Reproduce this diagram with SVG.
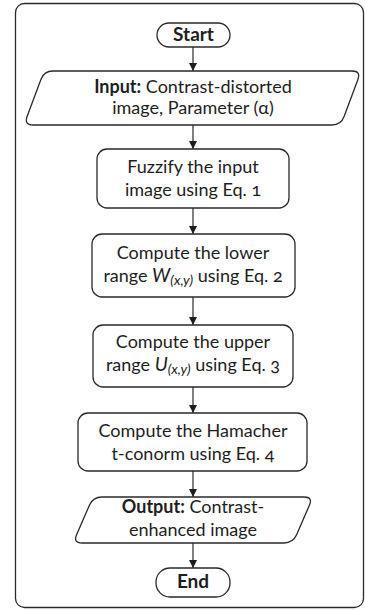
<svg xmlns="http://www.w3.org/2000/svg" width="365" height="610" viewBox="0 0 365 610">
  <style>
    .shape { fill: #ffffff; stroke: #2a2a2a; stroke-width: 1.3; }
    .frame { fill: none; stroke: #2a2a2a; stroke-width: 1.3; }
    .edge { stroke: #2a2a2a; stroke-width: 1.2; fill: none; }
    text { font-family: Lato, "Open Sans", "Liberation Sans", sans-serif; font-size: 18px; fill: #1e1e1e; text-anchor: middle; font-variant-numeric: oldstyle-nums; }
    .b { font-weight: bold; }
    .t { font-size: 19px; }
    .v { font-style: italic; font-size: 19px; }
    .sub { font-style: italic; font-size: 14px; }
  </style>
  <defs>
    <marker id="arrow" viewBox="0 0 8 8" refX="8" refY="4" markerWidth="8" markerHeight="8" markerUnits="userSpaceOnUse" orient="auto">
      <path d="M0,0 L8,4 L0,8 Z" fill="#1e1e1e"/>
    </marker>
  </defs>

  <rect class="frame" x="15.5" y="3.5" width="348" height="604" rx="9"/>

  <g id="connectors">
    <line class="edge" x1="193" y1="47" x2="193" y2="71" marker-end="url(#arrow)"/>
    <line class="edge" x1="193" y1="125" x2="193" y2="149" marker-end="url(#arrow)"/>
    <line class="edge" x1="193" y1="208" x2="193" y2="234" marker-end="url(#arrow)"/>
    <line class="edge" x1="193" y1="297" x2="193" y2="325" marker-end="url(#arrow)"/>
    <line class="edge" x1="193" y1="387" x2="193" y2="413" marker-end="url(#arrow)"/>
    <line class="edge" x1="193" y1="471" x2="193" y2="497" marker-end="url(#arrow)"/>
    <line class="edge" x1="193" y1="543" x2="193" y2="568" marker-end="url(#arrow)"/>
  </g>

  <g id="start">
    <rect class="shape" x="157" y="23" width="73" height="24" rx="12"/>
    <text class="b t" x="193.5" y="41">Start</text>
  </g>

  <g id="input">
    <path class="shape" d="M53,71 L352,71 Q361,71 357.9,79.4 L344.1,116.6 Q341,125 332,125 L33,125 Q24,125 27.1,116.6 L40.9,79.4 Q44,71 53,71 Z"/>
    <text x="193" y="93"><tspan class="b">Input:</tspan> Contrast-distorted</text>
    <text x="193" y="114">image, Parameter (α)</text>
  </g>

  <g id="fuzzify">
    <rect class="shape" x="97" y="149" width="192" height="59" rx="10"/>
    <text x="193" y="173">Fuzzify the input</text>
    <text x="193" y="196">image using Eq. 1</text>
  </g>

  <g id="lower">
    <rect class="shape" x="92" y="234" width="203" height="63" rx="10"/>
    <text x="193" y="259">Compute the lower</text>
    <text x="193" y="282">range <tspan class="v">W</tspan><tspan class="sub" dy="3">(x,y)</tspan><tspan dy="-3"> using Eq. 2</tspan></text>
  </g>

  <g id="upper">
    <rect class="shape" x="93" y="325" width="200" height="62" rx="10"/>
    <text x="193" y="348">Compute the upper</text>
    <text x="193" y="371">range <tspan class="v">U</tspan><tspan class="sub" dy="3">(x,y)</tspan><tspan dy="-3"> using Eq. 3</tspan></text>
  </g>

  <g id="hamacher">
    <rect class="shape" x="78" y="413" width="229" height="58" rx="10"/>
    <text x="193" y="437">Compute the Hamacher</text>
    <text x="193" y="460">t-conorm using Eq. 4</text>
  </g>

  <g id="output">
    <path class="shape" d="M102,497 L304,497 Q313,497 309.4,505.2 L296.6,534.8 Q293,543 284,543 L82,543 Q73,543 76.6,534.8 L89.4,505.2 Q93,497 102,497 Z"/>
    <text x="193" y="513"><tspan class="b">Output:</tspan> Contrast-</text>
    <text x="193" y="536">enhanced image</text>
  </g>

  <g id="end">
    <rect class="shape" x="156" y="568" width="74" height="29" rx="14"/>
    <text class="b t" x="193" y="588">End</text>
  </g>
</svg>
